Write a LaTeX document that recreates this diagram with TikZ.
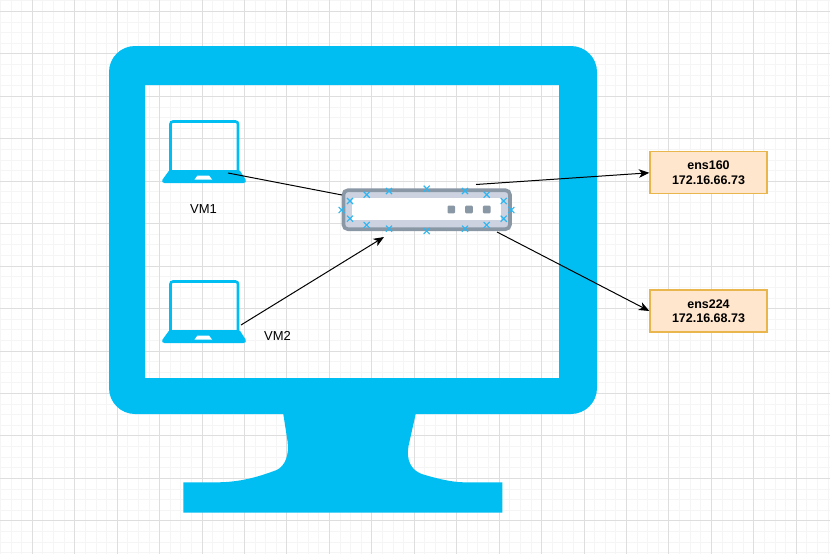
\documentclass[tikz,border=0pt]{standalone}
\usepackage{fontspec}
\setmainfont{Liberation Sans}
\usetikzlibrary{arrows.meta,shapes.misc}
\definecolor{azure}{HTML}{00BEF2}
\definecolor{crossblue}{HTML}{29B6F2}
\definecolor{slategrey}{HTML}{8A98A6}
\definecolor{slatelight}{HTML}{CCD2E0}
\definecolor{peach}{HTML}{FFE6CC}
\definecolor{peachline}{HTML}{E8B64C}
\tikzset{
    gridmajor/.style={draw=black!13,line width=0.9pt},
    gridminor/.style={draw=black!4,line width=0.9pt},
    label/.style={inner sep=0pt,font=\fontsize{13}{15}\selectfont},
    ifbox/.style={draw=peachline,line width=1.3pt,fill=peach,align=center,inner sep=0pt,minimum width=117,minimum height=42,font=\fontsize{12.5}{14.5}\selectfont\bfseries},
    xmark/.style={cross out,draw=crossblue,line width=1.1pt,minimum size=5pt,inner sep=0pt},
    arrow/.style={-{Stealth[length=10.5pt,width=8.5pt,inset=3pt]},line width=1pt},
    plain/.style={line width=1pt},
    pics/laptop/.style={code={
        \draw[azure,line width=2.6pt,rounded corners=2.5pt] (170.5,171) -- (170.5,121.5) -- (238,121.5) -- (238,171);
        \fill[azure,rounded corners=1.5pt] (169.5,170) -- (239.5,170) -- (246.5,181) -- (245,183) -- (163,183) -- (161.5,181) -- cycle;
        \fill[white] (197.5,175.5) -- (209,175.5) -- (212,179.5) -- (194.5,179.5) -- cycle;
    }}
}
\begin{document}
\begin{tikzpicture}[x=1pt,y=-1pt]
    \useasboundingbox (0,0) rectangle (830,554);
    \fill[white] (0,0) rectangle (830,554);
    % grid
    \foreach \i in {-3,...,78} {
        \draw[gridminor] ({32.3+10.61*\i},0) -- ({32.3+10.61*\i},554);
    }
    \foreach \i in {-1,...,52} {
        \draw[gridminor] (0,{11.5+10.61*\i}) -- (830,{11.5+10.61*\i});
    }
    \foreach \i in {0,...,19} {
        \draw[gridmajor] ({32.3+42.44*\i},0) -- ({32.3+42.44*\i},554);
    }
    \foreach \i in {0,...,12} {
        \draw[gridmajor] (0,{11.5+42.44*\i}) -- (830,{11.5+42.44*\i});
    }
    % monitor
    \fill[azure,even odd rule] [rounded corners=26] (109,46) rectangle (597,414) [sharp corners] (145,85) rectangle (559,378);
    \fill[azure] (283.3,414) -- (287.5,441) .. controls (289.5,455) and (285,466) .. (276.7,470)
        .. controls (258,477) and (240,482.3) .. (216.7,482.3) -- (183.3,482.3) -- (183.3,512.7)
        -- (502.3,512.7) -- (502.3,482.3) -- (463.3,482.3)
        .. controls (450,482) and (435,478) .. (421.7,474)
        .. controls (411,470) and (406,460) .. (408.5,446) -- (415.7,414) -- cycle;
    % laptops
    \pic at (0,0) {laptop};
    \pic at (0,160) {laptop};
    \node[label] (vmone) at (203.5,209.5) {VM1};
    \node[label] (vmtwo) at (277.5,336) {VM2};
    % switch
    \node[draw=slategrey,line width=3.6pt,fill=slatelight,rounded corners=4.5pt,minimum width=166.5,minimum height=39,inner sep=0pt] (switch) at (426.7,209.7) {};
    \node[fill=white,minimum width=149.5,minimum height=21.7,inner sep=0pt] (slot) at (426.4,209.2) {};
    \foreach \x [count=\n] in {451.3,469,486.7} {
        \node[fill=slategrey,rounded corners=1pt,minimum size=7.6pt,inner sep=0pt] (led\n) at (\x,209.5) {};
    }
    % boxes
    \node[ifbox] (ensone) at (708.5,172.8) {ens160\\172.16.66.73};
    \node[ifbox] (enstwo) at (708.5,311) {ens224\\172.16.68.73};
    % connectors
    \coordinate (vmonetap) at (228,173);
    \coordinate (vmtwotap) at (241,325);
    \coordinate (swleft) at (342,195);
    \coordinate (swbottom) at (384,237);
    \coordinate (swtop) at (476,184.5);
    \coordinate (swright) at (497,232);
    \draw[plain] (vmonetap) -- (swleft);
    \draw[arrow] (vmtwotap) -- (swbottom);
    \draw[arrow] (swtop) -- (ensone.west);
    \draw[arrow] (swright) -- (enstwo.west);
    % connection marks
    \foreach \x/\y [count=\n] in {366.7/194.7,389/191,426.7/188.7,465/191,486.7/194.7,503.7/201,511.3/210,503.7/218.7,486.7/225,465/228.7,426.7/231,389/228.7,366.7/225,350/218.7,341.7/210,350/201} {
        \node[xmark] (mark\n) at (\x,\y) {};
    }
\end{tikzpicture}
\end{document}
